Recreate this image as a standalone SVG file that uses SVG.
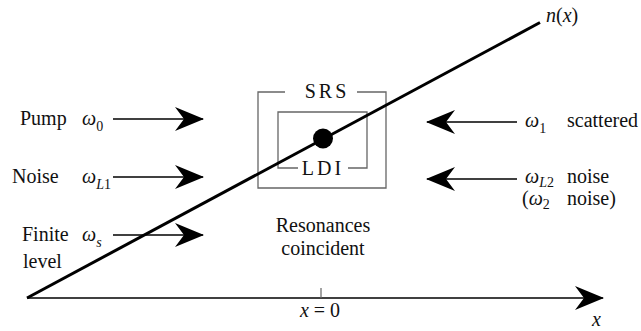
<svg xmlns="http://www.w3.org/2000/svg" width="641" height="331" viewBox="0 0 641 331" font-family="'Liberation Serif', 'DejaVu Serif', serif">
<style>
  text { font-family: "Liberation Serif", "DejaVu Serif", serif; font-size: 20px; fill: #111; }
  .it { font-style: italic; }
  .sub { font-size: 14px; }
  .up { font-style: normal; }
  .arr { stroke: #000; stroke-width: 1.4; fill: none; marker-end: url(#ah); }
  .box { stroke: #666; stroke-width: 1.3; fill: none; }
</style>
<defs>
  <marker id="ah" markerUnits="userSpaceOnUse" viewBox="0 0 30 26" markerWidth="30" markerHeight="26" refX="29" refY="13" orient="auto">
    <path d="M30,13 L1,1 L10,13 L1,25 Z" fill="#000"/>
  </marker>
</defs>
<rect width="641" height="331" fill="#fff"/>

<g id="connectors">
  <line class="arr" x1="27" y1="298" x2="603" y2="298"/>
  <line x1="321" y1="288" x2="321" y2="298" stroke="#666" stroke-width="1.2"/>
  <line class="arr" x1="113" y1="119" x2="203" y2="119"/>
  <line class="arr" x1="113" y1="177" x2="203" y2="177"/>
  <line class="arr" x1="113" y1="235" x2="203" y2="235"/>
  <line class="arr" x1="517" y1="122" x2="427" y2="122"/>
  <line class="arr" x1="517" y1="179" x2="427" y2="179"/>
</g>

<g id="srs-box">
  <path class="box" d="M285,92 H258 V188 H386 V92 H357"/>
  <text x="327" y="98" text-anchor="middle" letter-spacing="3">SRS</text>
</g>

<g id="ldi-box">
  <path class="box" d="M298,168 H278 V112 H367 V168 H348"/>
  <text x="323" y="175" text-anchor="middle" letter-spacing="3">LDI</text>
</g>

<g id="n-line">
  <line x1="27" y1="298" x2="540" y2="22.5" stroke="#000" stroke-width="3"/>
  <circle cx="323" cy="138.5" r="10" fill="#000"/>
  <text class="it" x="546" y="22">n<tspan class="up">(</tspan>x<tspan class="up">)</tspan></text>
</g>

<g id="pump">
  <text x="20" y="125">Pump</text>
  <text class="it" x="82" y="125">ω<tspan class="sub up" dy="6">0</tspan></text>
</g>

<g id="noise-l1">
  <text x="12" y="183">Noise</text>
  <text class="it" x="82" y="183">ω<tspan class="sub" dy="6">L</tspan><tspan class="sub up">1</tspan></text>
</g>

<g id="finite">
  <text x="22" y="241">Finite</text>
  <text x="23" y="268">level</text>
  <text class="it" x="82" y="241">ω<tspan class="sub" dy="6">s</tspan></text>
</g>

<g id="scattered">
  <text class="it" x="525" y="127">ω<tspan class="sub up" dy="6">1</tspan></text>
  <text x="567" y="127">scattered</text>
</g>

<g id="noise-l2">
  <text class="it" x="525" y="183">ω<tspan class="sub" dy="4">L</tspan><tspan class="sub up">2</tspan></text>
  <text x="567" y="183">noise</text>
  <text x="522" y="205">(<tspan class="it">ω</tspan><tspan class="sub" dy="4">2</tspan></text>
  <text x="567" y="205">noise)</text>
</g>

<g id="resonances">
  <text x="323" y="232" text-anchor="middle">Resonances</text>
  <text x="323" y="255" text-anchor="middle">coincident</text>
</g>

<g id="axis-labels">
  <text x="320" y="317" text-anchor="middle"><tspan class="it">x</tspan> = 0</text>
  <text class="it" x="592" y="326">x</text>
</g>
</svg>
